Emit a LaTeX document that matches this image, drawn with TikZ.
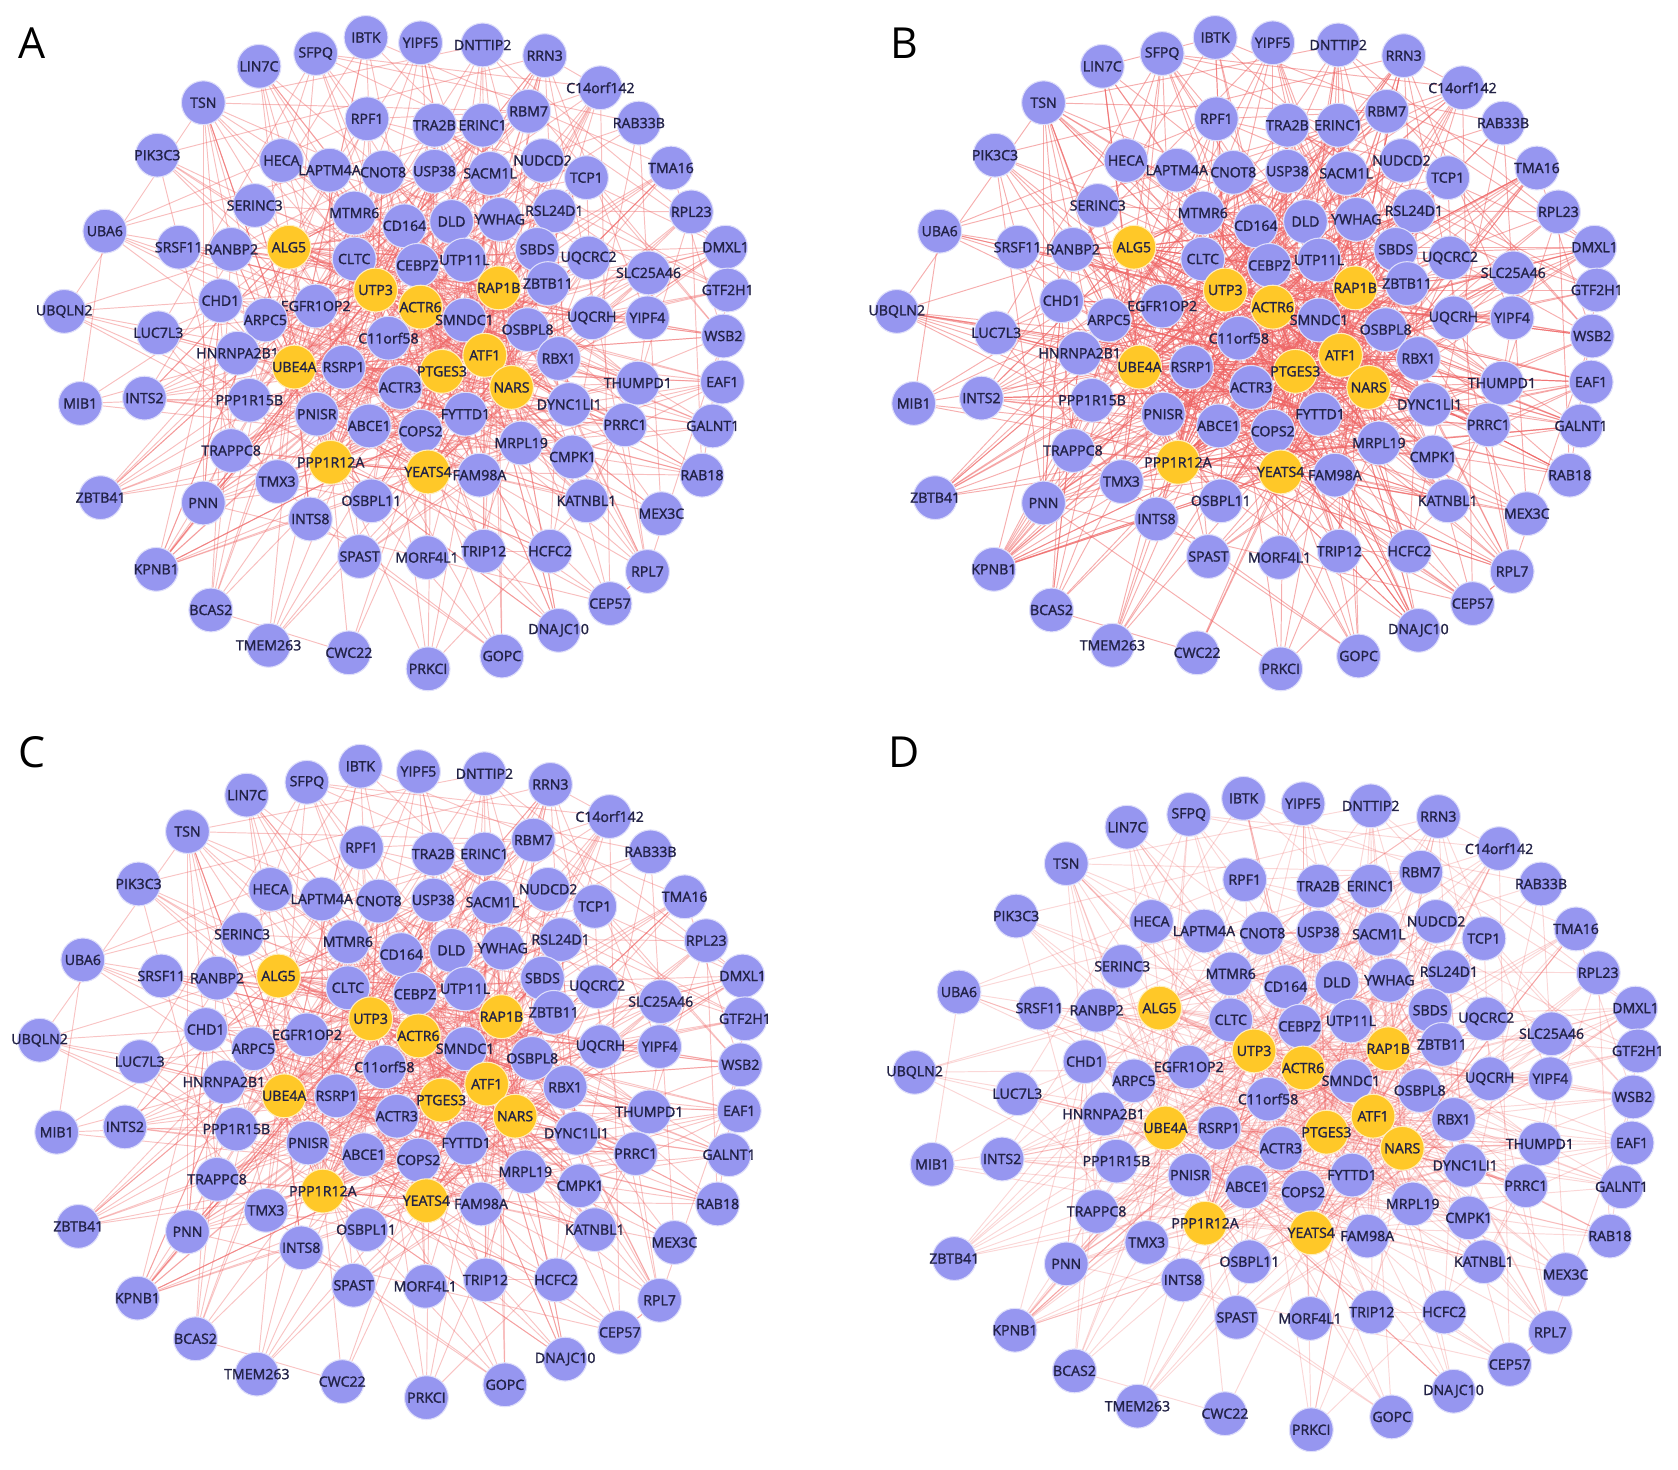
\documentclass[tikz,border=0pt]{standalone}
\usepackage{fontspec}
\setmainfont{Open Sans}
\newfontfamily\genefont{Open Sans}[FakeBold=1.6]
\usetikzlibrary{backgrounds}
\definecolor{bn}{RGB}{150,150,240}
\definecolor{yn}{RGB}{255,200,40}
\definecolor{edgered}{RGB}{238,100,100}
\definecolor{labeltxt}{RGB}{34,34,70}
\tikzset{
  gene/.style={circle, inner sep=0pt, minimum size=20.5pt, line width=0.5pt,
    text=labeltxt, font=\genefont\fontsize{6.6}{7}\selectfont},
  edge/.style={draw=edgered, line width=0.45pt},
  panellabel/.style={font=\fontsize{20}{24}\selectfont, text=black, anchor=center}
}
\def\nodelist{IBTK/342/35/bn, YIPF5/393/40/bn, DNTTIP2/451/42/bn, RRN3/509/52/bn,
C14orf142/561/82/bn, LIN7C/242/62/bn, SFPQ/295/50/bn, TSN/190/96/bn, RPF1/343/111/bn,
TRA2B/406/117/bn, ERINC1/451/117/bn, RBM7/494/104/bn, RAB33B/597/115/bn, PIK3C3/147/145/bn,
HECA/263/150/bn, LAPTM4A/308/159/bn, CNOT8/358/161/bn, USP38/406/160/bn, SACM1L/458/162/bn,
NUDCD2/507/150/bn, TCP1/548/166/bn, TMA16/627/157/bn, SERINC3/238/192/bn, MTMR6/331/199/bn,
CD164/378/211/bn, DLD/422/207/bn, YWHAG/467/205/bn, RSL24D1/518/197/bn, RPL23/646/198/bn,
UBA6/98/216/bn, SRSF11/167/231/bn, RANBP2/216/233/bn, ALG5/270/231/yn, CLTC/331/242/bn,
CEBPZ/390/248/bn, UTP11L/434/243/bn, SBDS/502/233/bn, UQCRC2/550/241/bn, DMXL1/678/231/bn,
SLC25A46/606/255/bn, UBQLN2/60/291/bn, CHD1/206/281/bn, EGFR1OP2/295/286/bn, UTP3/351/271/yn,
ACTR6/393/287/yn, RAP1B/466/269/yn, ZBTB11/512/265/bn, GTF2H1/680/271/bn, LUC7L3/148/311/bn,
ARPC5/248/299/bn, SMNDC1/434/299/bn, OSBPL8/493/308/bn, UQCRH/553/297/bn, YIPF4/605/297/bn,
WSB2/676/314/bn, HNRNPA2B1/222/330/bn, C11orf58/363/316/bn, UBE4A/275/343/yn, RSRP1/321/343/bn,
ATF1/453/332/yn, RBX1/522/335/bn, PTGES3/413/347/yn, ACTR3/374/362/bn, NARS/478/362/yn,
THUMPD1/596/358/bn, EAF1/675/357/bn, MIB1/75/377/bn, INTS2/135/372/bn, PPP1R15B/233/374/bn,
DYNC1LI1/532/378/bn, PNISR/296/387/bn, ABCE1/345/398/bn, COPS2/393/403/bn, FYTTD1/435/387/bn,
PRRC1/584/397/bn, GALNT1/666/398/bn, TRAPPC8/216/421/bn, MRPL19/487/414/bn, CMPK1/535/427/bn,
PPP1R12A/309/432/yn, YEATS4/400/441/yn, FAM98A/448/444/bn, RAB18/656/444/bn, TMX3/259/450/bn,
ZBTB41/94/465/bn, PNN/190/470/bn, OSBPL11/347/468/bn, KATNBL1/548/468/bn, MEX3C/618/480/bn,
INTS8/290/485/bn, KPNB1/146/532/bn, SPAST/336/520/bn, MORF4L1/399/521/bn, TRIP12/452/515/bn,
HCFC2/514/515/bn, RPL7/605/534/bn, BCAS2/197/570/bn, CEP57/570/564/bn, TMEM263/251/603/bn,
CWC22/326/610/bn, PRKCI/400/625/bn, GOPC/469/613/bn, DNAJC10/522/589/bn}
% central nodes of the network (dense core)
\def\corelist{17,18,19,24,25,26,27,28,34,35,36,37,43,44,45,46,47,50,51,52,57,58,59,60,61,62,63,64,70,71,72,73,74,78,80,81,82,87}
% #1 prefix, #2 centre x, #3 horizontal scale, #4 vertical shift,
% #5 random edges, #6 edges per hub, #7 edge opacity, #8 core edges per core node
\newcommand\drawpanel[8]{%
  \foreach \nm/\px/\py/\st [count=\i] in \nodelist {
    \node[gene, fill=\st, draw=white!70!\st] (#1\i) at ({#2+(\px-369)*#3},{\py+#4}) {\makebox[0pt][c]{\nm}};
  }
  \begin{pgfonlayer}{background}
    \pgfmathsetseed{4242}
    \foreach \k in {1,...,#5} {
      \pgfmathrandominteger{\ra}{1}{103}
      \pgfmathrandominteger{\rb}{1}{103}
      \ifnum\ra=\rb\else\draw[edge, opacity=#7] (#1\ra) -- (#1\rb);\fi
    }
    \foreach \h in {33,44,45,46,58,60,62,64,80,81} {
      \foreach \k in {1,...,#6} {
        \pgfmathrandominteger{\rb}{1}{103}
        \ifnum\h=\rb\else\draw[edge, opacity=#7] (#1\h) -- (#1\rb);\fi
      }
    }
    \foreach \c in \corelist {
      \foreach \k in {1,...,#8} {
        \pgfmathrandomitem{\rb}{corenodes}
        \ifnum\c=\rb\else\draw[edge, opacity=#7] (#1\c) -- (#1\rb);\fi
      }
    }
  \end{pgfonlayer}
}
\pgfmathdeclarerandomlist{corenodes}{{17}{18}{19}{24}{25}{26}{27}{28}{34}{35}{36}{37}{43}{44}{45}{46}{47}{50}{51}{52}{57}{58}{59}{60}{61}{62}{63}{64}{70}{71}{72}{73}{74}{78}{80}{81}{82}{87}}
\begin{document}
\begin{tikzpicture}[x=0.5pt, y=-0.5pt]
  \useasboundingbox (0,0) rectangle (1568,1373);
  \drawpanel{A}{369}{1}{0}{300}{30}{0.42}{4}
  \drawpanel{B}{1164}{1.055}{0}{340}{36}{0.52}{5}
  \drawpanel{C}{365.5}{1.063}{681}{300}{30}{0.38}{4}
  \drawpanel{D}{1191.5}{1.09}{711}{280}{28}{0.26}{4}
  \node[panellabel] (labA) at (30,40) {A};
  \node[panellabel] (labB) at (845,40) {B};
  \node[panellabel] (labC) at (30,703) {C};
  \node[panellabel] (labD) at (845,703) {D};
\end{tikzpicture}
\end{document}
